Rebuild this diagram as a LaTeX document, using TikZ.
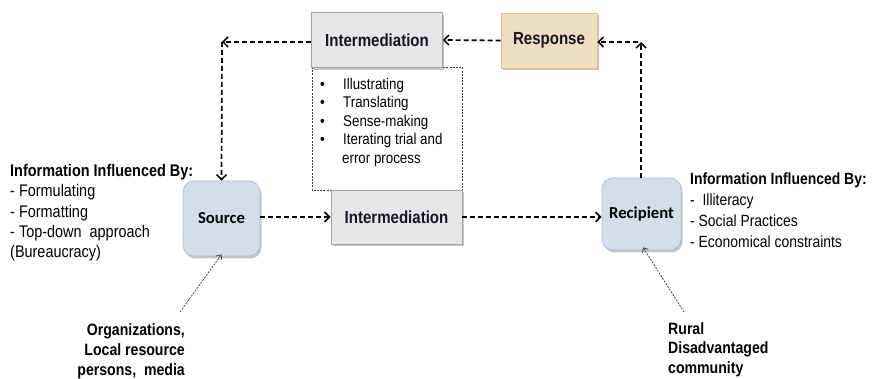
\documentclass[tikz,border=0pt]{standalone}
\usepackage{fontspec}
\setmainfont{Liberation Sans}[FakeStretch=0.86]
\newfontfamily\calfont{Carlito}
\usetikzlibrary{arrows.meta,shadows}

\definecolor{inkblue}{HTML}{16162A}
\definecolor{boxgray}{HTML}{E8E6E8}
\definecolor{boxgrayline}{HTML}{A6A6A6}
\definecolor{resfill}{HTML}{EEDDC2}
\definecolor{resline}{HTML}{E0C07E}
\definecolor{actfill}{HTML}{D4DEEA}
\definecolor{actline}{HTML}{A9C0DA}

\tikzset{
  x=1pt, y=-1pt,
  boxshadow/.style={drop shadow={opacity=0.45, shadow xshift=1.5pt, shadow yshift=-2.5pt}},
  graybox/.style={draw=boxgrayline, line width=0.8pt, fill=boxgray, boxshadow,
    text=inkblue, font=\fontsize{17.5}{20}\selectfont\bfseries, inner sep=0pt},
  resbox/.style={draw=resline, line width=0.8pt, fill=resfill, boxshadow,
    text=inkblue, font=\fontsize{17.5}{20}\selectfont\bfseries, inner sep=0pt},
  actor/.style={draw=actline, line width=0.8pt, fill=actfill, rounded corners=11pt, boxshadow,
    text=black, font=\calfont\fontsize{16.7}{20}\selectfont\bfseries, inner sep=0pt},
  flow/.style={line width=1.7pt, dash pattern=on 5pt off 3pt,
    -{Straight Barb[length=5pt, width=10pt, line width=1.5pt]}},
  origin/.style={line width=0.7pt, draw=black!80, dash pattern=on 2pt off 1.2pt,
    -{Straight Barb[length=4pt, width=7pt, line width=0.7pt]}},
  info/.style={anchor=north west, inner sep=0pt, align=left, text=black},
}

\begin{document}
\begin{tikzpicture}
\useasboundingbox (0,0) rectangle (873,379);
\clip (0,0) rectangle (873,379);

% activity list box behind the two intermediation boxes
\draw[line width=0.8pt, draw=black!75, dash pattern=on 2pt off 1.2pt]
  (312,67) rectangle (462,190);

% main boxes
\node[graybox, minimum width=131pt, minimum height=55pt] (int1) at (377,40) {Intermediation};
\node[resbox, minimum width=96pt, minimum height=55pt] (resp) at (549,40.5) {Response};
\node[graybox, minimum width=131pt, minimum height=54pt] (int2) at (396.5,217) {Intermediation};
\node[actor, minimum width=77pt, minimum height=75pt] (src) at (221.5,218.5) {Source};
\node[actor, minimum width=79pt, minimum height=72pt] (rec) at (641.5,214) {Recipient};

% activities of the intermediation step
\node[info, font=\fontsize{15.5}{18.4}\selectfont] (acts) at (320,78)
  {\makebox[23pt][l]{\textbullet}Illustrating\\
   \makebox[23pt][l]{\textbullet}Translating\\
   \makebox[23pt][l]{\textbullet}Sense-making\\
   \makebox[23pt][l]{\textbullet}Iterating trial and\\
   \hspace*{22pt}error process};

% influences on each side
\node[info, font=\fontsize{16.8}{20.4}\selectfont] (srcinfo) at (10,164)
  {\textbf{Information Influenced By:}\\
   - Formulating\\
   - Formatting\\
   - Top-down\ \ approach\\
   (Bureaucracy)};
\node[info, font=\fontsize{16.2}{21}\selectfont] (recinfo) at (690,173)
  {\textbf{Information Influenced By:}\\
   -\ \ Illiteracy\\
   - Social Practices\\
   - Economical constraints};

% who acts as source and recipient
\node[anchor=north east, inner sep=0pt, align=right, font=\fontsize{16.4}{20}\selectfont\bfseries]
  (srclabel) at (185,323) {Organizations,\\Local resource\\persons,\ \ media};
\node[anchor=north west, inner sep=0pt, align=left, font=\fontsize{16.4}{19.5}\selectfont\bfseries]
  (reclabel) at (668,322) {Rural\\Disadvantaged\\community};

% feedback loop
\coordinate (c1) at (222,42);
\coordinate (c2) at (641,42);
\draw[flow] (int1.west |- c1) -- (c1);
\draw[flow] (c1) -- (src.north);
\draw[flow] (resp.west) -- (int1.east);
\draw[flow] (rec.north -| c2) -- (c2);
\draw[flow] ([xshift=-3pt]c2) -- (resp.east |- c2);

% forward flow
\draw[flow] (src.east |- int2.west) -- (int2.west);
\draw[flow] (int2.east) -- (rec.west |- int2.east);

% origins
\coordinate (o1) at (180,312);
\coordinate (o2) at (684,312);
\draw[origin] (o1) -- ([yshift=2pt]src.south);
\draw[origin] (o2) -- ([xshift=1.5pt,yshift=3pt]rec.south);
\end{tikzpicture}
\end{document}
